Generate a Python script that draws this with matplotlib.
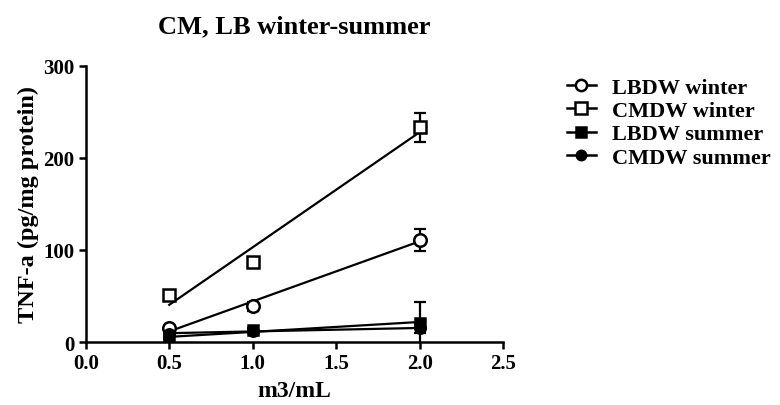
import numpy as np
import matplotlib.pyplot as plt
from matplotlib.lines import Line2D

plt.rcParams['font.family'] = ['Liberation Serif', 'DejaVu Serif']
plt.rcParams['font.weight'] = 'bold'

# dose (m3/mL)
dose = [0.5, 1.0, 2.0]

# TNF-a means and SEM
lbdw_winter = [15, 39, 111]
lbdw_winter_err = [2, 5, 12]
cmdw_winter = [51, 87, 233]
cmdw_winter_err = [3, 3, 16]
lbdw_summer = [4, 13.5, 21]
lbdw_summer_err = [1, 2, 23]
cmdw_summer = [9, 12.5, 15]
cmdw_summer_err = [2, 2, 5]

series_names = ['LBDW winter', 'CMDW winter', 'LBDW summer', 'CMDW summer']

fig = plt.figure(figsize=(7.8, 4.06), dpi=100)
ax = fig.add_axes([0.110, 0.155, 0.535, 0.681])

styles = [
    dict(marker='o', mfc='white', ms=9),
    dict(marker='s', mfc='white', ms=9),
    dict(marker='s', mfc='black', ms=7.5),
    dict(marker='o', mfc='black', ms=7.5),
]
data = [(lbdw_winter, lbdw_winter_err), (cmdw_winter, cmdw_winter_err),
        (lbdw_summer, lbdw_summer_err), (cmdw_summer, cmdw_summer_err)]

x = np.array(dose)
handles = []
for (vals, err), st, name in zip(data, styles, series_names):
    # linear regression line over the dose range
    slope, icpt = np.polyfit(x, vals, 1)
    xf = np.array([x.min(), x.max()])
    ax.plot(xf, slope * xf + icpt, color='black', lw=1.6, zorder=2)
    ax.errorbar(x, vals, yerr=err, fmt='none', ecolor='black', elinewidth=1.6,
                capsize=4.5, capthick=1.6, zorder=3)
    ax.plot(x, vals, linestyle='none', marker=st['marker'], ms=st['ms'],
            mfc=st['mfc'], mec='black', mew=1.8, zorder=4)
    handles.append(Line2D([], [], color='black', lw=1.8, marker=st['marker'],
                          ms=st['ms'] * 0.9, mfc=st['mfc'], mec='black', mew=1.8,
                          label=name))

ax.set_xlim(0, 2.5)
ax.set_ylim(0, 300)
ax.set_xticks(np.arange(0, 2.51, 0.5))
ax.set_xticklabels(['0.0', '0.5', '1.0', '1.5', '2.0', '2.5'])
ax.set_yticks([0, 100, 200, 300])

for s in ['top', 'right']:
    ax.spines[s].set_visible(False)
for s in ['left', 'bottom']:
    ax.spines[s].set_linewidth(1.8)
ax.tick_params(width=1.8, length=5, labelsize=15, pad=3)

ax.set_xlabel('m3/mL', fontsize=17, fontweight='bold', labelpad=5)
ax.set_ylabel('TNF-a (pg/mg protein)', fontsize=17.5, fontweight='bold', labelpad=3)
ax.set_title('CM, LB winter-summer', fontsize=19, fontweight='bold', pad=24)

fig.legend(handles=handles, loc='upper left', bbox_to_anchor=(0.701, 0.856),
           frameon=False, handlelength=1.3, handletextpad=0.75,
           labelspacing=0.12, prop={'weight': 'bold', 'size': 16})

fig.savefig('out.png', dpi=100)
